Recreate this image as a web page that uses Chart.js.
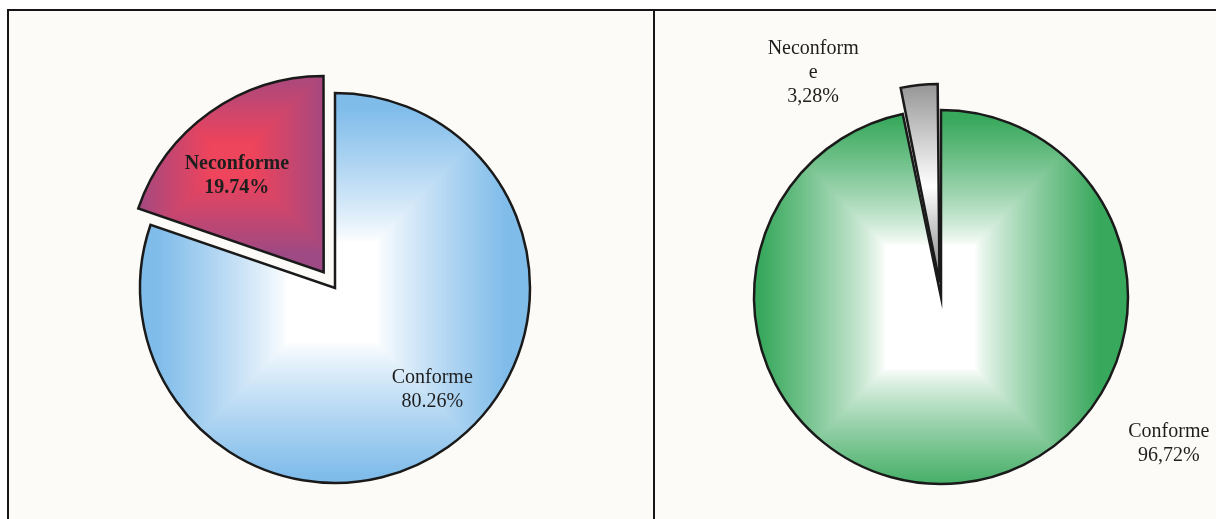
<!DOCTYPE html>
<html>
<head>
<meta charset="utf-8">
<script src="https://cdn.jsdelivr.net/npm/chart.js@4.4.1/dist/chart.umd.min.js"></script>
<style>
body { margin: 0; background: #fff; width: 1216px; height: 519px; overflow: hidden; position: relative; }
.panel { position: absolute; top: 9px; height: 540px; border: 2px solid #161616; background: #fcfbf7; box-sizing: border-box; }
#p1 { left: 7px; width: 648px; }
#p2 { left: 653px; width: 600px; }
canvas { position: absolute; }
#c1 { left: 9px; top: 11px; }
#c2 { left: 655px; top: 11px; }
</style>
</head>
<body>
<div class="panel" id="p1"></div>
<div class="panel" id="p2"></div>
<canvas id="c1" width="644" height="508"></canvas>
<canvas id="c2" width="561" height="508"></canvas>
<script>
// data
const categories = ['Conforme', 'Neconforme'];
const leftValues = [80.26, 19.74];
const rightValues = [96.72, 3.28];

function mix(a, b, t) {
    return 'rgb(' + a.map((v, i) => Math.round(v + (b[i] - v) * t)).join(',') + ')';
}

// "from centre" rectangular gradient, like the old office fills
function rectFill(chart, cx, cy, inX, inY, outX, outY, cIn, cOut, ease) {
    const off = document.createElement('canvas');
    off.width = chart.width;
    off.height = chart.height;
    const g = off.getContext('2d');
    g.fillStyle = mix(cOut, cOut, 0);
    g.fillRect(0, 0, off.width, off.height);
    const N = 90;
    for (let i = N; i >= 0; i--) {
        const t = i / N;
        const hx = inX + (outX - inX) * t, hy = inY + (outY - inY) * t;
        g.fillStyle = mix(cIn, cOut, ease ? Math.pow(t, ease) : t);
        g.fillRect(cx - hx, cy - hy, 2 * hx, 2 * hy);
    }
    return chart.ctx.createPattern(off, 'no-repeat');
}

function centre(chart) {
    const a = chart.chartArea;
    return { x: (a.left + a.right) / 2, y: (a.top + a.bottom) / 2 };
}

function leftFills(chart) {
    if (!chart.$fills) {
        const c = centre(chart);
        chart.$fills = [
            rectFill(chart, c.x - 3, c.y + 4, 45, 50, 175, 185, [255, 255, 255], [128, 188, 234], 0.85),
            rectFill(chart, c.x - 92, c.y - 112, 22, 18, 100, 95, [238, 68, 92], [158, 74, 132])
        ];
    }
    return chart.$fills;
}

function rightFills(chart) {
    if (!chart.$fills) {
        const c = centre(chart);
        const gray = chart.ctx.createLinearGradient(0, c.y - 210, 0, c.y - 20);
        gray.addColorStop(0, '#8a8a8a');
        gray.addColorStop(0.6, '#ffffff');
        gray.addColorStop(1, '#9a9a9a');
        chart.$fills = [
            rectFill(chart, c.x - 11, c.y + 10, 45, 62, 170, 190, [255, 255, 255], [56, 168, 92], 0.8),
            gray
        ];
    }
    return chart.$fills;
}

function fillFor(make, plain) {
    return (c) => {
        if (!c.chart.chartArea) return plain[c.dataIndex];
        return make(c.chart)[c.dataIndex];
    };
}

function wrap(ctx, text, maxW) {
    if (!maxW || ctx.measureText(text).width <= maxW) return [text];
    const out = [];
    let cur = '';
    for (const ch of text) {
        if (cur && ctx.measureText(cur + ch).width > maxW) { out.push(cur); cur = ch; }
        else cur += ch;
    }
    out.push(cur);
    return out;
}

const sliceLabels = {
    id: 'sliceLabels',
    afterDatasetsDraw(chart, args, opts) {
        const ctx = chart.ctx;
        const meta = chart.getDatasetMeta(0);
        const values = chart.data.datasets[0].data;
        meta.data.forEach((arc, i) => {
            const p = opts.place[i];
            const a = (p.angle - 90) * Math.PI / 180;
            const x = arc.x + Math.cos(a) * p.dist;
            const y = arc.y + Math.sin(a) * p.dist;
            ctx.save();
            ctx.font = (p.bold ? 'bold ' : '') + opts.size + 'px "Liberation Serif", "Times New Roman", serif';
            ctx.fillStyle = '#1e1e1e';
            ctx.textAlign = 'center';
            ctx.textBaseline = 'middle';
            const pct = values[i].toFixed(2).replace('.', opts.decimal) + '%';
            const lines = wrap(ctx, chart.data.labels[i], opts.maxWidth).concat(pct);
            const y0 = y - (lines.length - 1) * opts.lineHeight / 2;
            lines.forEach((t, k) => ctx.fillText(t, x, y0 + k * opts.lineHeight));
            ctx.restore();
        });
    }
};

// note: chart.js v4 moves an arc by offset/4 (thin arcs also grow a bit)
new Chart(document.getElementById('c1'), {
    type: 'pie',
    data: {
        labels: categories,
        datasets: [{
            data: leftValues,
            backgroundColor: fillFor(leftFills, ['#80bcea', '#d9466a']),
            borderColor: '#1a1a1a',
            borderWidth: 2.5,
            borderJoinStyle: 'miter',
            offset: [0, 78],
            radius: 195
        }]
    },
    options: {
        responsive: false,
        animation: false,
        events: [],
        layout: { padding: { left: 8, right: 0, top: 46, bottom: 0 } },
        plugins: {
            legend: { display: false },
            tooltip: { enabled: false },
            sliceLabels: {
                size: 20, lineHeight: 24, decimal: '.', maxWidth: 0,
                place: [{ angle: 136.4, dist: 141 }, { angle: -41.2, dist: 149, bold: true }]
            }
        }
    },
    plugins: [sliceLabels]
});

new Chart(document.getElementById('c2'), {
    type: 'pie',
    data: {
        labels: categories,
        datasets: [{
            data: rightValues,
            backgroundColor: fillFor(rightFills, ['#38a85c', '#b0b0b0']),
            borderColor: '#1a1a1a',
            borderWidth: 2.5,
            borderJoinStyle: 'miter',
            offset: [0, 58],
            radius: 187
        }]
    },
    options: {
        responsive: false,
        animation: false,
        events: [],
        layout: { padding: { left: 11, right: 0, top: 64, bottom: 0 } },
        plugins: {
            legend: { display: false },
            tooltip: { enabled: false },
            sliceLabels: {
                size: 20, lineHeight: 24, decimal: ',', maxWidth: 96,
                place: [{ angle: 122.8, dist: 271 }, { angle: -29.7, dist: 258 }]
            }
        }
    },
    plugins: [sliceLabels]
});
</script>
</body>
</html>
